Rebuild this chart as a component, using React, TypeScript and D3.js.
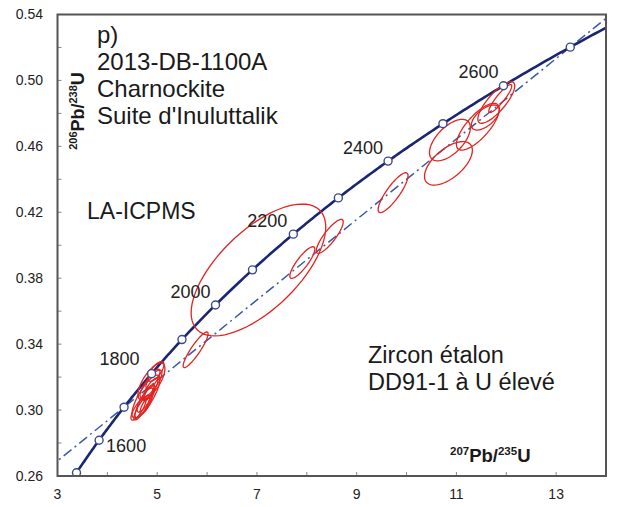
import React from 'react';
import * as d3 from 'd3';

// U-Pb decay constants (per year)
const LAMBDA_238 = 1.55125e-10;
const LAMBDA_235 = 9.8485e-10;

// Concordia age markers (Ma)
const concordiaAges = [1500, 1600, 1700, 1800, 1900, 2000, 2100, 2200, 2300, 2400, 2500, 2600, 2700];
const labeledAges = [1600, 1800, 2000, 2200, 2400, 2600];
// Discordia intercept ages (Ma): lower, upper
const discordiaIntercepts = [1700, 2700];

const xTicks = [3, 5, 7, 9, 11, 13];
const xMinorTicks = [4, 6, 8, 10, 12, 14];
const yTicks = [0.26, 0.3, 0.34, 0.38, 0.42, 0.46, 0.5, 0.54];
const yMinorTicks = [0.28, 0.32, 0.36, 0.4, 0.44, 0.48, 0.52];

// Error ellipses: [207Pb/235U, 206Pb/238U, half-range x, half-range y, rho]
const ellipsesMain: [number, number, number, number, number][] = [
  [7.03, 0.385, 1.35, 0.04, 0.65],
  [5.77, 0.3366, 0.25, 0.0108, 0.9],
  [7.91, 0.3895, 0.25, 0.0096, 0.85],
  [8.46, 0.4054, 0.27, 0.0103, 0.85],
  [9.73, 0.4319, 0.3, 0.0121, 0.85],
];
const ellipsesUpper: [number, number, number, number, number][] = [
  [10.87, 0.4638, 0.41, 0.0126, 0.6],
  [10.84, 0.4497, 0.48, 0.0132, 0.6],
  [11.43, 0.4719, 0.43, 0.0142, 0.75],
  [11.58, 0.4775, 0.28, 0.0076, 0.6],
  [11.8, 0.4866, 0.37, 0.0126, 0.8],
  [11.88, 0.489, 0.23, 0.0085, 0.9],
];
const ellipses1800: [number, number, number, number, number][] = [
  [4.884, 0.3173, 0.27, 0.0112, 0.7],
  [4.774, 0.3082, 0.28, 0.013, 0.8],
  [4.754, 0.3052, 0.2, 0.01, 0.85],
  [4.874, 0.3158, 0.22, 0.0085, 0.8],
  [4.693, 0.3016, 0.16, 0.0076, 0.85],
  [4.754, 0.3061, 0.16, 0.0073, 0.8],
  [4.864, 0.3127, 0.15, 0.0067, 0.8],
  [4.774, 0.3033, 0.12, 0.0058, 0.8],
  [4.914, 0.3188, 0.14, 0.006, 0.75],
  [4.623, 0.3006, 0.15, 0.0067, 0.8],
  [4.974, 0.3234, 0.16, 0.006, 0.7],
  [4.83, 0.3105, 0.1, 0.005, 0.8],
];

const titleLines = ['p)', '2013-DB-1100A', 'Charnockite', "Suite d'Inuluttalik"];
const methodLabel = 'LA-ICPMS';
const noteLines = ['Zircon étalon', 'DD91-1 à U élevé'];

// layout
const W = 618;
const H = 507;
const X0 = 57.5, X1 = 606, Y0 = 476, Y1 = 14.5;
const FONT = 'Liberation Sans, Arial, Helvetica, sans-serif';
const labelOffsets: Record<number, [number, number, string]> = {
  1600: [7, 12, 'start'],
  1800: [-12, -9, 'end'],
  2000: [-5, -7, 'end'],
  2200: [-6, -7, 'end'],
  2400: [-5, -7, 'end'],
  2600: [-5, -8, 'end'],
};

const ratio238 = (t: number) => Math.exp(LAMBDA_238 * t * 1e6) - 1;
const ratio235 = (t: number) => Math.exp(LAMBDA_235 * t * 1e6) - 1;

export default function App() {
  const x = d3.scaleLinear().domain([3, 14]).range([X0, X1]);
  const y = d3.scaleLinear().domain([0.26, 0.54]).range([Y0, Y1]);

  const line = d3
    .line<[number, number]>()
    .x((d) => x(d[0]))
    .y((d) => y(d[1]));

  // concordia curve
  const curvePts: [number, number][] = d3
    .range(1485, 2770, 5)
    .map((t) => [ratio235(t), ratio238(t)]);

  // discordia
  const [tl, tu] = discordiaIntercepts;
  const p1: [number, number] = [ratio235(tl), ratio238(tl)];
  const p2: [number, number] = [ratio235(tu), ratio238(tu)];
  const slope = (p2[1] - p1[1]) / (p2[0] - p1[0]);
  const discPts: [number, number][] = [
    [2.5, p1[1] + slope * (2.5 - p1[0])],
    [14.5, p1[1] + slope * (14.5 - p1[0])],
  ];

  const ellipsePath = (e: [number, number, number, number, number]) => {
    const [cx, cy, sx, sy, rho] = e;
    const k = Math.sqrt(1 - rho * rho);
    const pts: [number, number][] = d3.range(0, 72).map((i) => {
      const th = (i / 72) * Math.PI * 2;
      return [cx + sx * Math.cos(th), cy + sy * (rho * Math.cos(th) + k * Math.sin(th))];
    });
    return d3.line<[number, number]>().x((d) => x(d[0])).y((d) => y(d[1])).curve(d3.curveLinearClosed)(pts) || '';
  };

  const allEllipses = [...ellipsesMain, ...ellipsesUpper, ...ellipses1800];

  return (
    <svg
      width={W}
      height={H}
      style={{ position: 'absolute', left: 0, top: 0, background: '#fff' }}
      fontFamily={FONT}
    >
      <defs>
        <clipPath id="plot">
          <rect x={X0} y={Y1} width={X1 - X0} height={Y0 - Y1} />
        </clipPath>
      </defs>
      <rect x={0} y={0} width={W} height={H} fill="#fff" />

      {/* ticks */}
      {[...yTicks, ...yMinorTicks].map((t) => (
        <line key={'yt' + t} x1={X0} x2={X0 + 4} y1={y(t)} y2={y(t)} stroke="#888" strokeWidth={1} />
      ))}
      {[...xTicks, ...xMinorTicks].map((t) => (
        <line key={'xt' + t} x1={x(t)} x2={x(t)} y1={Y0} y2={Y0 - 4} stroke="#888" strokeWidth={1} />
      ))}
      {yTicks.map((t) => (
        <text key={'yl' + t} x={43} y={y(t)} dy="0.35em" textAnchor="end" fontSize={14} fill="#222">
          {t.toFixed(2)}
        </text>
      ))}
      {xTicks.map((t) => (
        <text key={'xl' + t} x={x(t)} y={499} textAnchor="middle" fontSize={14} fill="#222">
          {t}
        </text>
      ))}

      <g clipPath="url(#plot)">
        <path d={line(discPts) || ''} fill="none" stroke="#3a5aa8" strokeWidth={1.5} strokeDasharray="10,4,2,4" />
        <path d={line(curvePts) || ''} fill="none" stroke="#1a2672" strokeWidth={2.6} />
        {allEllipses.map((e, i) => (
          <path key={'e' + i} d={ellipsePath(e)} fill="none" stroke="#e3231f" strokeWidth={1.3} />
        ))}
        {concordiaAges.map((t) => (
          <circle key={'c' + t} cx={x(ratio235(t))} cy={y(ratio238(t))} r={4} fill="#fff" stroke="#3b4a8c" strokeWidth={1.4} />
        ))}
      </g>

      {/* frame */}
      <rect x={X0} y={Y1} width={X1 - X0} height={Y0 - Y1} fill="none" stroke="#555" strokeWidth={2} />

      {/* age labels */}
      {labeledAges.map((t) => {
        const [dx, dy, anchor] = labelOffsets[t];
        return (
          <text
            key={'al' + t}
            x={x(ratio235(t)) + dx}
            y={y(ratio238(t)) + dy}
            textAnchor={anchor as any}
            fontSize={18}
            fill="#222"
          >
            {t}
          </text>
        );
      })}

      {/* title block */}
      {titleLines.map((s, i) => (
        <text key={'tl' + i} x={97} y={43 + i * 27} fontSize={24} fill="#1a1a1a">
          {s}
        </text>
      ))}
      <text x={87} y={219} fontSize={23} fill="#1a1a1a">
        {methodLabel}
      </text>
      {noteLines.map((s, i) => (
        <text key={'nl' + i} x={368} y={363 + i * 27} fontSize={23.5} fill="#1a1a1a">
          {s}
        </text>
      ))}

      {/* axis titles */}
      <text transform="translate(84,111) rotate(-90)" textAnchor="middle" fontWeight="bold" fill="#1a1a1a" fontSize={18}>
        <tspan fontSize={11} dy={-7}>206</tspan>
        <tspan dy={7}>Pb/</tspan>
        <tspan fontSize={11} dy={-7}>238</tspan>
        <tspan dy={7}>U</tspan>
      </text>
      <text x={450} y={462} fontWeight="bold" fill="#1a1a1a" fontSize={18.5}>
        <tspan fontSize={11.5} dy={-7}>207</tspan>
        <tspan dy={7}>Pb/</tspan>
        <tspan fontSize={11.5} dy={-7}>235</tspan>
        <tspan dy={7}>U</tspan>
      </text>
    </svg>
  );
}
